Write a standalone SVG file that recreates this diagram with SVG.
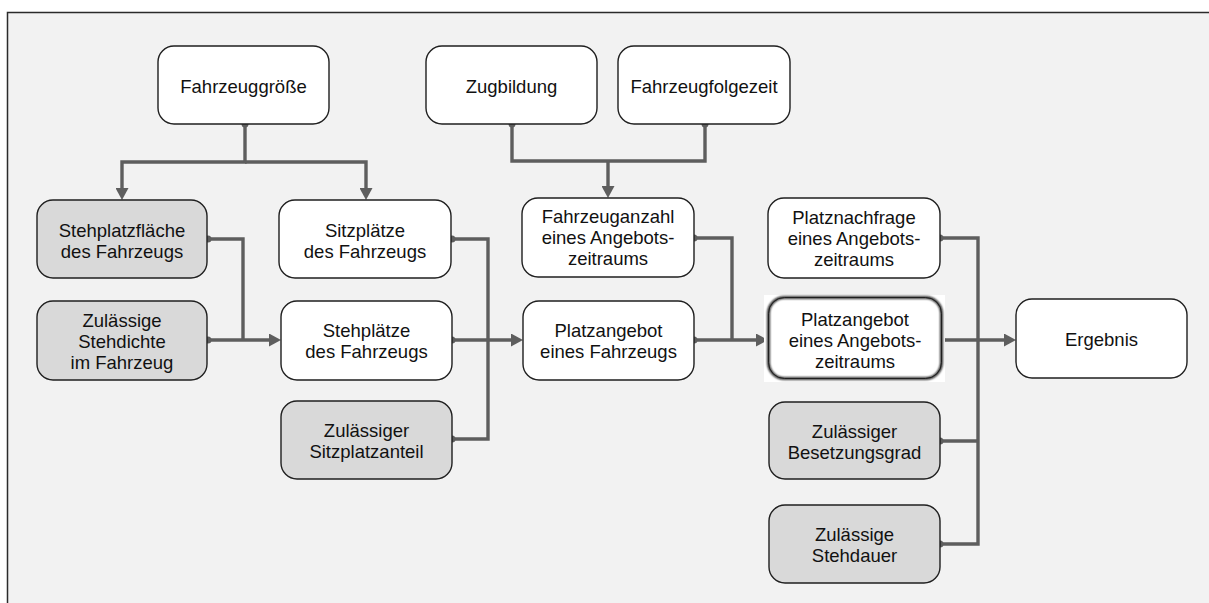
<svg xmlns="http://www.w3.org/2000/svg" width="1209" height="603" viewBox="0 0 1209 603">
  <style>
    .box { fill: #ffffff; stroke: #1f1f1f; stroke-width: 1.4; }
    .box.input { fill: #d9d9d9; }
    .lbl { font-family: "Liberation Sans", Arial, sans-serif; font-size: 18.5px; fill: #111111; text-anchor: middle; }
    .wire { fill: none; stroke: #5e5e5e; stroke-width: 3.4; stroke-linejoin: miter; stroke-linecap: butt; }
    .arrow { marker-end: url(#head); }
    .dot { fill: #5e5e5e; }
  </style>
  <defs>
    <marker id="head" markerUnits="userSpaceOnUse" markerWidth="13" markerHeight="13" refX="0" refY="6.5" orient="auto">
      <path d="M0,0 L12,6.5 L0,13 z" fill="#5e5e5e"/>
    </marker>
    <filter id="soft" x="-10%" y="-10%" width="120%" height="120%">
      <feGaussianBlur stdDeviation="0.9"/>
    </filter>
  </defs>

  <!-- page and frame (only top and left edges fall inside the sheet) -->
  <rect x="0" y="0" width="1209" height="603" fill="#ffffff"/>
  <rect x="7" y="12.5" width="1202" height="590.5" fill="#f2f2f2"/>
  <path d="M7.5,603 V12.5 H1209" fill="none" stroke="#2b2b2b" stroke-width="1.5"/>

  <!-- connectors -->
  <g id="connectors">
    <path class="wire arrow" d="M245,124 V162 H122 V188"/>
    <path class="wire arrow" d="M245,162 H366 V188"/>
    <path class="wire" d="M208,239 H243 V340"/>
    <path class="wire arrow" d="M208,340 H269"/>
    <path class="wire" d="M452,239 H488 V439 H452"/>
    <path class="wire arrow" d="M452,340 H511"/>
    <path class="wire" d="M512,124 V161 H705 V124"/>
    <path class="wire arrow" d="M608,161 V186"/>
    <path class="wire" d="M694,238 H732 V340"/>
    <path class="wire arrow" d="M694,340 H756"/>
    <path class="wire" d="M940,238 H978 V544 H940"/>
    <path class="wire" d="M940,441 H978"/>
    <path class="wire arrow" d="M942,340 H1004"/>
    <circle class="dot" cx="245" cy="124" r="3.5"/>
    <circle class="dot" cx="208" cy="239" r="3.5"/>
    <circle class="dot" cx="208" cy="340" r="3.5"/>
    <circle class="dot" cx="452" cy="239" r="3.5"/>
    <circle class="dot" cx="452" cy="340" r="3.5"/>
    <circle class="dot" cx="452" cy="439" r="3.5"/>
    <circle class="dot" cx="512" cy="124" r="3.5"/>
    <circle class="dot" cx="705" cy="124" r="3.5"/>
    <circle class="dot" cx="694" cy="238" r="3.5"/>
    <circle class="dot" cx="694" cy="340" r="3.5"/>
    <circle class="dot" cx="940" cy="238" r="3.5"/>
    <circle class="dot" cx="942" cy="340" r="3.5"/>
    <circle class="dot" cx="940" cy="441" r="3.5"/>
    <circle class="dot" cx="940" cy="544" r="3.5"/>
  </g>

  <!-- nodes -->
  <g id="fahrzeuggroesse">
    <rect class="box" x="158" y="46" width="171" height="78" rx="16"/>
    <text class="lbl" x="243.5" y="92.5">Fahrzeuggröße</text>
  </g>
  <g id="zugbildung">
    <rect class="box" x="426" y="46" width="171" height="78" rx="16"/>
    <text class="lbl" x="511.5" y="92.5">Zugbildung</text>
  </g>
  <g id="fahrzeugfolgezeit">
    <rect class="box" x="618" y="46" width="172" height="78" rx="16"/>
    <text class="lbl" x="704" y="92.5">Fahrzeugfolgezeit</text>
  </g>
  <g id="stehplatzflaeche">
    <rect class="box input" x="37" y="200" width="170" height="78" rx="16"/>
    <text class="lbl" x="122" y="236.5">Stehplatzfläche</text>
    <text class="lbl" x="122" y="257.5">des Fahrzeugs</text>
  </g>
  <g id="sitzplaetze">
    <rect class="box" x="279" y="200" width="172" height="78" rx="16"/>
    <text class="lbl" x="365" y="236.5">Sitzplätze</text>
    <text class="lbl" x="365" y="257.5">des Fahrzeugs</text>
  </g>
  <g id="stehdichte">
    <rect class="box input" x="37" y="301" width="170" height="79" rx="16"/>
    <text class="lbl" x="122" y="327">Zulässige</text>
    <text class="lbl" x="122" y="348">Stehdichte</text>
    <text class="lbl" x="122" y="369">im Fahrzeug</text>
  </g>
  <g id="stehplaetze">
    <rect class="box" x="281" y="301" width="171" height="79" rx="16"/>
    <text class="lbl" x="366.5" y="337">Stehplätze</text>
    <text class="lbl" x="366.5" y="358">des Fahrzeugs</text>
  </g>
  <g id="sitzplatzanteil">
    <rect class="box input" x="281" y="401" width="171" height="78" rx="16"/>
    <text class="lbl" x="366.5" y="437">Zulässiger</text>
    <text class="lbl" x="366.5" y="458">Sitzplatzanteil</text>
  </g>
  <g id="fahrzeuganzahl">
    <rect class="box" x="522" y="198" width="172" height="79" rx="16"/>
    <text class="lbl" x="608" y="223">Fahrzeuganzahl</text>
    <text class="lbl" x="608" y="244">eines Angebots-</text>
    <text class="lbl" x="608" y="265">zeitraums</text>
  </g>
  <g id="platzangebot-fahrzeug">
    <rect class="box" x="523" y="301" width="171" height="79" rx="16"/>
    <text class="lbl" x="608.5" y="337">Platzangebot</text>
    <text class="lbl" x="608.5" y="358">eines Fahrzeugs</text>
  </g>
  <g id="platznachfrage">
    <rect class="box" x="768" y="198" width="172" height="80" rx="16"/>
    <text class="lbl" x="854" y="224">Platznachfrage</text>
    <text class="lbl" x="854" y="245">eines Angebots-</text>
    <text class="lbl" x="854" y="266">zeitraums</text>
  </g>
  <g id="platzangebot-zeitraum">
    <rect x="764" y="295" width="181" height="87" fill="#ffffff"/>
    <rect x="768.5" y="297.5" width="173" height="81" rx="16" fill="none" stroke="#111111" stroke-width="2.6" filter="url(#soft)"/>
    <rect x="768.5" y="297.5" width="173" height="81" rx="16" fill="none" stroke="#1f1f1f" stroke-width="1"/>
    <text class="lbl" x="855" y="326">Platzangebot</text>
    <text class="lbl" x="855" y="347">eines Angebots-</text>
    <text class="lbl" x="855" y="368">zeitraums</text>
  </g>
  <g id="besetzungsgrad">
    <rect class="box input" x="769" y="402" width="171" height="77" rx="16"/>
    <text class="lbl" x="854.5" y="438">Zulässiger</text>
    <text class="lbl" x="854.5" y="459">Besetzungsgrad</text>
  </g>
  <g id="stehdauer">
    <rect class="box input" x="769" y="505" width="171" height="78" rx="16"/>
    <text class="lbl" x="854.5" y="541">Zulässige</text>
    <text class="lbl" x="854.5" y="562">Stehdauer</text>
  </g>
  <g id="ergebnis">
    <rect class="box" x="1016" y="299" width="171" height="79" rx="16"/>
    <text class="lbl" x="1101.5" y="346">Ergebnis</text>
  </g>
</svg>
